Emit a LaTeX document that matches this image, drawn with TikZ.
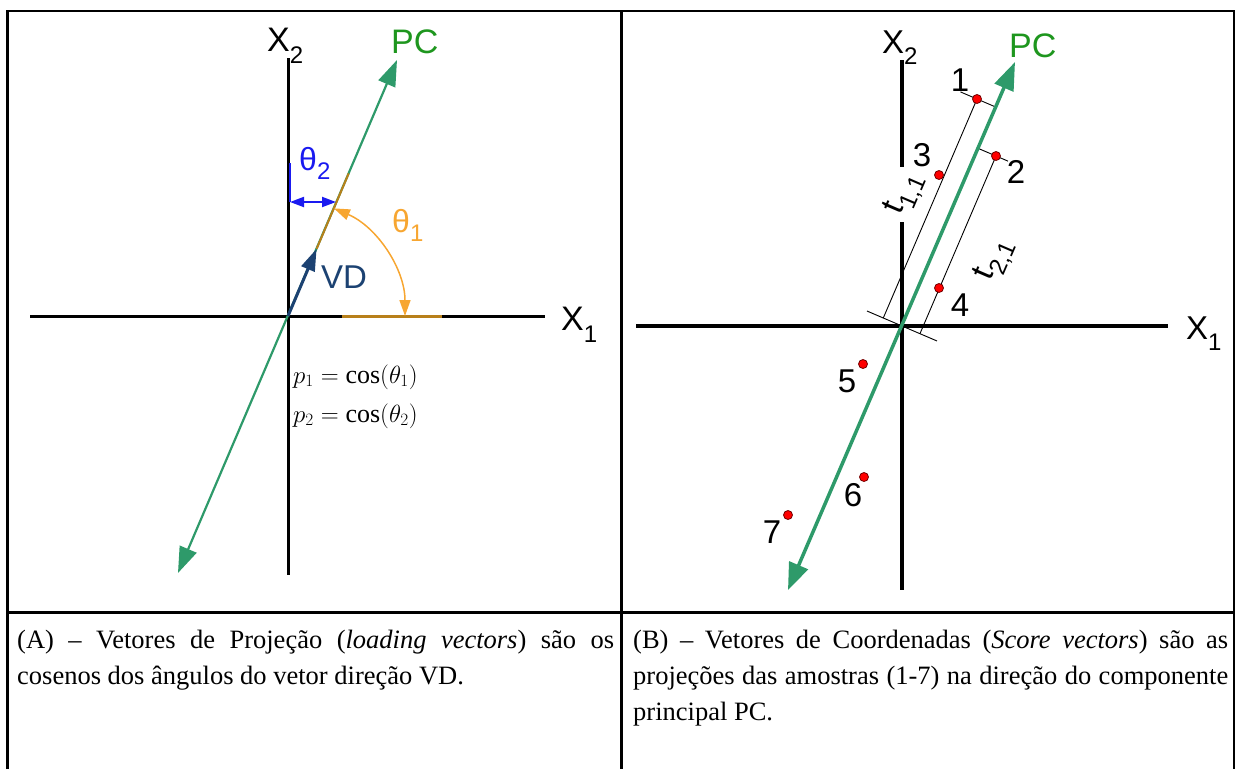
\documentclass[tikz,border=0pt]{standalone}
\usepackage{fontspec}
\setmainfont{Liberation Serif}
\newfontfamily\lsans{Liberation Sans}
\usetikzlibrary{arrows.meta,calc}
\definecolor{pcgreen}{HTML}{2E9A6A}
\definecolor{pclabel}{HTML}{1E961E}
\definecolor{thetaorange}{HTML}{F7A631}
\definecolor{brownseg}{HTML}{B8801A}
\definecolor{thetablue}{HTML}{1A1AF0}
\definecolor{vdnavy}{HTML}{1C4272}
\newcommand{\subl}[2][-0.36em]{\raisebox{#1}{\fontsize{24}{24}\selectfont #2}}
\begin{document}
\begin{tikzpicture}[x=1pt,y=-1pt,
  tbl/.style={line width=2.5pt,black},
  axisL/.style={line width=3pt,black},
  axisR/.style={line width=3.5pt,black},
  pcL/.style={pcgreen,line width=2.2pt,{Triangle[length=26pt,width=18pt]}-{Triangle[length=26pt,width=18pt]}},
  pcR/.style={pcgreen,line width=3.5pt,{Triangle[length=27pt,width=20pt]}-{Triangle[length=28pt,width=20pt]}},
  proj/.style={black,line width=0.9pt},
  dot/.style={circle,fill=red,draw=red!45!black,line width=0.8pt,minimum size=9pt,inner sep=0},
  biglab/.style={font=\lsans\fontsize{34}{34}\selectfont,anchor=base west,inner sep=0},
  numlab/.style={font=\lsans\fontsize{33}{33}\selectfont,inner sep=0},
  tlab/.style={font=\lsans\fontsize{33}{33}\selectfont,inner sep=0,rotate=66.7},
  formula/.style={font=\fontsize{26}{26}\selectfont,anchor=base west,inner sep=0,black},
  captext/.style={font=\fontsize{26.5}{35}\selectfont,anchor=base west,inner sep=0},
]
\useasboundingbox (0,0) rectangle (1236,769);
% ---------- table ----------
\coordinate (TL) at (7.5,11); \coordinate (TM) at (621.5,11); \coordinate (TR) at (1234,11);
\coordinate (BL) at (7.5,769); \coordinate (BM) at (621.5,769); \coordinate (BR) at (1234,769);
\coordinate (ML) at (7.5,612.5); \coordinate (MR) at (1234,612.5);
\draw[tbl] (BL) -- (TL) -- (TR) -- (BR);
\draw[tbl] (TM) -- (BM);
\draw[tbl] (ML) -- (MR);
% ---------- left panel ----------
\coordinate (OL) at (288,316);
\coordinate (x1l) at (30,316); \coordinate (x1r) at (545,316);
\coordinate (x2t) at (288,58); \coordinate (x2b) at (288,575);
\draw[axisL] (x1l) -- (x1r);
\draw[axisL] (x2t) -- (x2b);
\coordinate (bs1) at (342,316); \coordinate (bs2) at (442,316);
\draw[brownseg,line width=3pt] (bs1) -- (bs2);
\coordinate (pcLb) at (178,573); \coordinate (pcLt) at (397,60);
\draw[pcL] (pcLb) -- (pcLt);
\coordinate (vdtip) at ($(OL)!73pt!(pcLt)$);
\coordinate (ovend) at ($(OL)!155pt!(pcLt)$);
\draw[brownseg,line width=2pt] (vdtip) -- (ovend);
\draw[vdnavy,line width=3pt,-{Triangle[length=22pt,width=14pt]}] (OL) -- (vdtip);
\coordinate (a1) at (405,316);
\draw[thetaorange,line width=1.5pt,{Triangle[length=16pt,width=11pt]}-{Triangle[length=16pt,width=11pt]}] (a1) arc[start angle=0,end angle=66.9,radius=117pt];
\coordinate (b1) at (290,163); \coordinate (b2) at (290,202); \coordinate (b3) at (336,202);
\draw[thetablue,line width=2.5pt] (b1) -- (b2);
\draw[thetablue,line width=2pt,{Triangle[length=14pt,width=10pt]}-{Triangle[length=14pt,width=10pt]}] (b2) -- (b3);
\node[biglab] (X2L) at (267,51) {X\subl{2}};
\node[biglab] (X1L) at (561,330) {X\subl{1}};
\node[biglab,pclabel] (PCL) at (391,53) {PC};
\node[biglab,thetablue,font=\lsans\fontsize{32}{32}\selectfont] (th2) at (299,170) {θ\subl[-0.3em]{2}};
\node[biglab,thetaorange,font=\lsans\fontsize{32}{32}\selectfont] (th1) at (392,232) {θ\subl[-0.3em]{1}};
\node[biglab,vdnavy,font=\lsans\fontsize{33}{33}\selectfont] (VDl) at (321,288) {VD};
\node[formula] (p1) at (293,383) {$p_1=\cos(\theta_1)$};
\node[formula] (p2) at (293,422) {$p_2=\cos(\theta_2)$};
% ---------- right panel ----------
\coordinate (OR) at (902,326);
\coordinate (pcRt) at (1015,62); \coordinate (pcRb) at (788,590);
\coordinate (N) at ($(OR)!1!90:(pcRt)$);
\coordinate (x1Rl) at (636,326); \coordinate (x1Rr) at (1168,326);
\coordinate (x2Rt) at (902,60); \coordinate (x2Rg1) at (902,167);
\coordinate (x2Rg2) at (902,222); \coordinate (x2Rb) at (902,590);
\draw[axisR] (x1Rl) -- (x1Rr);
\draw[axisR] (x2Rt) -- (x2Rg1);
\draw[axisR] (x2Rg2) -- (x2Rb);
\coordinate (c1) at (977,99);
\coordinate (c2) at (996,156);
\coordinate (c3) at (939,175);
\coordinate (c4) at (939,288);
\coordinate (c5) at (863,364);
\coordinate (c6) at (864,477);
\coordinate (c7) at (788,515);
\foreach \i/\ext in {1/18pt,2/13pt}{
  \coordinate (f\i) at ($(OR)!(c\i)!(N)$);
  \coordinate (g\i) at ($(OR)!(c\i)!(pcRt)$);
  \coordinate (e\i) at ($(c\i)!-\ext!(g\i)$);
  \draw[proj] (c\i) -- (f\i);
  \draw[proj] (g\i) -- (e\i);
}
\coordinate (bt1) at ($(OR)!38pt!(N)$);
\coordinate (bt2) at ($(OR)!-38pt!(N)$);
\draw[proj] (bt1) -- (bt2);
\draw[pcR] (pcRb) -- (pcRt);
\foreach \i in {1,...,7}{ \node[dot] (s\i) at (c\i) {}; }
\node[numlab] (l1) at (960,80) {1};
\node[numlab] (l2) at (1016,172) {2};
\node[numlab] (l3) at (922,155) {3};
\node[numlab] (l4) at (960,305) {4};
\node[numlab] (l5) at (847,381) {5};
\node[numlab] (l6) at (853,495) {6};
\node[numlab] (l7) at (772,532) {7};
\node[tlab] (t11) at (905,194) {t\subl[-0.3em]{1,1}};
\node[tlab] (t21) at (995,260) {t\subl[-0.3em]{2,1}};
\node[biglab,font=\lsans\fontsize{33}{33}\selectfont] (X2R) at (882,53) {X\subl{2}};
\node[biglab,font=\lsans\fontsize{33}{33}\selectfont] (X1R) at (1186,339) {X\subl{1}};
\node[biglab,pclabel] (PCR) at (1009,57) {PC};
% ---------- captions ----------
\node[captext] (cA1) at (17,648) {\makebox[597pt][s]{(A) – Vetores de Projeção (\textit{loading vectors}) são os}};
\node[captext] (cA2) at (17,684) {cosenos dos ângulos do vetor direção VD.};
\node[captext] (cB1) at (633,648) {\makebox[595pt][s]{(B) – Vetores de Coordenadas (\textit{Score vectors}) são as}};
\node[captext] (cB2) at (633,684) {\makebox[595pt][s]{projeções das amostras (1-7) na direção do componente}};
\node[captext] (cB3) at (633,720) {principal PC.};
\end{tikzpicture}
\end{document}
